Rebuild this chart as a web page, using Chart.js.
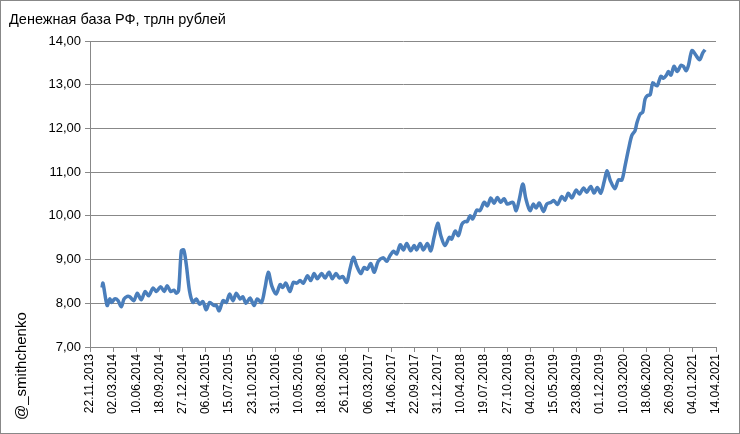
<!DOCTYPE html>
<html>
<head>
<meta charset="utf-8">
<script src="https://cdn.jsdelivr.net/npm/chart.js@4.4.1/dist/chart.umd.min.js"></script>
<style>
  html, body { margin: 0; padding: 0; background: #fff; }
  #wrap { width: 740px; height: 434px; position: relative; }
</style>
</head>
<body>
<div id="wrap"><canvas id="c" width="740" height="434"></canvas></div>
<script>
const chartTitle = 'Денежная база РФ, трлн рублей';
const watermark = '@_smithchenko';
const axisStart = '2013-11-22';
const axisEnd = '2021-04-14';
const tickStepDays = 100;
const yMin = 7, yMax = 14, yStep = 1;

const dates = [
'2014-01-13','2014-01-17','2014-02-04','2014-02-15','2014-02-24','2014-03-08','2014-03-23','2014-04-06','2014-04-18','2014-05-02',
'2014-05-12','2014-05-30','2014-06-14','2014-07-01','2014-07-18','2014-08-02','2014-08-21','2014-09-04','2014-09-23','2014-10-08',
'2014-10-21','2014-11-05','2014-11-19','2014-11-29','2014-12-09','2014-12-21','2014-12-31','2015-01-11','2015-01-25','2015-02-09',
'2015-02-23','2015-03-10','2015-03-24','2015-04-07','2015-04-22','2015-05-11','2015-05-21','2015-06-02','2015-06-19','2015-07-03',
'2015-07-17','2015-08-01','2015-08-15','2015-08-31','2015-09-12','2015-09-26','2015-10-13','2015-10-31','2015-11-13','2015-12-02',
'2015-12-17','2015-12-31','2016-01-15','2016-02-03','2016-02-20','2016-03-02','2016-03-16','2016-04-02','2016-04-17','2016-05-02',
'2016-05-16','2016-05-30','2016-06-17','2016-07-01','2016-07-16','2016-07-29','2016-08-17','2016-09-01','2016-09-18','2016-10-02',
'2016-10-18','2016-11-02','2016-11-16','2016-12-03','2016-12-17','2017-01-01','2017-01-15','2017-02-02','2017-02-16','2017-03-02',
'2017-03-17','2017-04-01','2017-04-18','2017-05-10','2017-05-25','2017-06-08','2017-06-23','2017-07-07','2017-07-22','2017-08-05',
'2017-08-19','2017-09-05','2017-09-20','2017-10-01','2017-10-16','2017-10-30','2017-11-16','2017-12-01','2017-12-15','2017-12-31',
'2018-01-13','2018-01-31','2018-02-19','2018-03-01','2018-03-16','2018-03-30','2018-04-14','2018-04-27','2018-05-07','2018-05-19',
'2018-05-31','2018-06-17','2018-07-01','2018-07-19','2018-08-02','2018-08-17','2018-08-31','2018-09-14','2018-09-28','2018-10-13',
'2018-10-27','2018-11-20','2018-12-04','2018-12-18','2019-01-02','2019-01-15','2019-02-02','2019-02-16','2019-02-28','2019-03-14',
'2019-04-01','2019-04-15','2019-05-03','2019-05-16','2019-05-31','2019-06-19','2019-07-03','2019-07-17','2019-08-01','2019-08-20',
'2019-09-03','2019-09-21','2019-10-04','2019-10-22','2019-11-05','2019-11-19','2019-12-04','2019-12-19','2019-12-31','2020-01-14',
'2020-02-03','2020-02-18','2020-03-04','2020-03-18','2020-04-02','2020-04-16','2020-04-30','2020-05-08','2020-05-22','2020-06-02',
'2020-06-12','2020-06-22','2020-07-04','2020-07-15','2020-07-25','2020-08-04','2020-08-19','2020-08-30','2020-09-11','2020-09-21',
'2020-10-02','2020-10-15','2020-10-29','2020-11-13','2020-11-24','2020-12-06','2020-12-16','2020-12-31','2021-01-14','2021-02-02',
'2021-02-16','2021-02-26'
];

const values = [
8.36,8.46,7.95,8.10,8.02,8.10,8.06,7.92,8.10,8.16,
8.15,8.06,8.23,8.08,8.27,8.17,8.35,8.27,8.38,8.27,
8.40,8.27,8.30,8.23,8.29,9.20,9.22,8.90,8.29,8.02,
8.10,7.98,8.04,7.85,8.02,7.95,7.95,7.83,8.06,8.02,
8.21,8.06,8.23,8.10,8.15,8.00,8.12,7.95,8.10,8.02,
8.36,8.71,8.40,8.21,8.43,8.36,8.46,8.27,8.48,8.46,
8.52,8.46,8.63,8.52,8.68,8.56,8.68,8.58,8.71,8.56,
8.68,8.58,8.61,8.48,8.78,9.05,8.86,8.68,8.82,8.78,
8.91,8.71,8.96,9.04,8.96,9.09,9.19,9.13,9.34,9.22,
9.37,9.20,9.32,9.22,9.37,9.22,9.37,9.20,9.51,9.83,
9.55,9.32,9.51,9.47,9.65,9.55,9.81,9.87,9.87,10.00,
9.93,10.13,10.12,10.31,10.23,10.41,10.29,10.42,10.31,10.39,
10.27,10.31,10.12,10.39,10.73,10.39,10.12,10.27,10.18,10.29,
10.10,10.27,10.31,10.35,10.26,10.44,10.36,10.52,10.41,10.59,
10.50,10.64,10.54,10.67,10.52,10.65,10.52,10.79,11.03,10.81,
10.62,10.82,10.82,11.15,11.53,11.84,11.95,12.13,12.33,12.37,
12.67,12.75,12.77,13.04,13.00,12.98,13.19,13.15,13.21,13.30,
13.22,13.42,13.30,13.44,13.42,13.32,13.44,13.78,13.70,13.57,
13.73,13.80
];

const DAY = 86400000;
const base = Date.parse(axisStart + 'T00:00:00Z');
const dayOf = s => Math.round((Date.parse(s + 'T00:00:00Z') - base) / DAY);
const points = dates.map((d, i) => ({ x: dayOf(d), y: values[i] }));
const fmtDate = off => {
  const dt = new Date(base + off * DAY);
  const p = n => String(n).padStart(2, '0');
  return p(dt.getUTCDate()) + '.' + p(dt.getUTCMonth() + 1) + '.' + dt.getUTCFullYear();
};

const decor = {
  id: 'decor',
  afterDraw(chart) {
    const ctx = chart.ctx;
    ctx.save();
    ctx.strokeStyle = '#888888';
    ctx.lineWidth = 1;
    ctx.strokeRect(0.5, 0.5, 739, 433);
    ctx.fillStyle = '#000000';
    ctx.font = '14.5px "Liberation Sans", Arial, sans-serif';
    ctx.textBaseline = 'alphabetic';
    ctx.textAlign = 'left';
    ctx.fillText(chartTitle, 9, 24);
    ctx.translate(26, 420);
    ctx.rotate(-Math.PI / 2);
    ctx.font = '15px "Liberation Sans", Arial, sans-serif';
    ctx.fillText(watermark, 0, 0);
    ctx.restore();
  }
};

new Chart(document.getElementById('c'), {
  type: 'line',
  data: {
    datasets: [{
      data: points,
      borderColor: '#4A7EBB',
      borderWidth: 3.5,
      pointRadius: 0,
      tension: 0.3,
      fill: false
    }]
  },
  options: {
    responsive: false,
    animation: false,
    devicePixelRatio: 1,
    layout: { padding: { left: 0, top: 41, right: 24, bottom: 0 } },
    plugins: { legend: { display: false }, title: { display: false }, tooltip: { enabled: false } },
    scales: {
      x: {
        type: 'linear',
        min: 0,
        max: dayOf(axisEnd),
        afterFit: s => { s.height = 87; },
        afterBuildTicks: s => { s.ticks = s.ticks.filter(t => t.value % tickStepDays === 0); },
        ticks: {
          stepSize: tickStepDays,
          autoSkip: false,
          maxRotation: 90,
          minRotation: 90,
          padding: 2,
          color: '#000000',
          font: { family: '"Liberation Sans", Arial, sans-serif', size: 12 },
          callback: v => fmtDate(v)
        },
        grid: { drawOnChartArea: false, drawTicks: true, tickLength: 5, color: '#888888', lineWidth: 1 },
        border: { color: '#888888', width: 1 }
      },
      y: {
        min: yMin,
        max: yMax,
        afterFit: s => { s.width = 90; },
        ticks: {
          stepSize: yStep,
          padding: 4,
          color: '#000000',
          font: { family: '"Liberation Sans", Arial, sans-serif', size: 13 },
          callback: v => v.toFixed(2).replace('.', ',')
        },
        grid: { color: '#888888', lineWidth: 1, tickLength: 5, drawTicks: true },
        border: { color: '#888888', width: 1 }
      }
    }
  },
  plugins: [decor]
});
</script>
</body>
</html>
